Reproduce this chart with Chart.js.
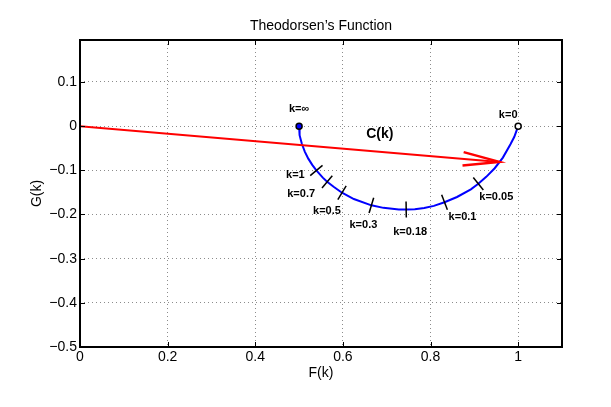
<!DOCTYPE html>
<html lang="en">
<head>
<meta charset="UTF-8">
<title>Theodorsen's Function</title>
<script src="https://cdn.jsdelivr.net/npm/chart.js"></script>
<style>
    html, body { margin: 0; padding: 0; background: #fff; }
    #wrap { width: 611px; height: 407px; }
</style>
</head>
<body>
<div id="wrap"><canvas id="chart" width="611" height="407"></canvas></div>
<script>
    // Theodorsen function C(k) = F(k) + iG(k), going from k = inf down to k = 0
    const kValues = [Infinity, 10, 6, 4, 3, 2, 1.5, 1.2, 1.0, 0.8, 0.7, 0.6, 0.5, 0.4, 0.3, 0.25, 0.2, 0.18, 0.16, 0.14, 0.12, 0.1, 0.08, 0.06, 0.05, 0.04, 0.03, 0.02, 0.01, 0.005, 0];
    const fValues = [0.5, 0.5006, 0.5017, 0.5037, 0.5063, 0.5130, 0.5210, 0.5300, 0.5394, 0.5541, 0.5640, 0.5788, 0.5979, 0.6250, 0.6650, 0.6925, 0.7276, 0.7444, 0.7640, 0.7855, 0.8076, 0.8319, 0.8604, 0.8920, 0.9090, 0.9271, 0.9464, 0.9651, 0.9824, 0.9912, 1.0];
    const gValues = [0, -0.0124, -0.0206, -0.0305, -0.0400, -0.0577, -0.0736, -0.0877, -0.1003, -0.1165, -0.1260, -0.1371, -0.1507, -0.1650, -0.1793, -0.1850, -0.1886, -0.1889, -0.1881, -0.1855, -0.1805, -0.1723, -0.1604, -0.1430, -0.1305, -0.1148, -0.0953, -0.0712, -0.0408, -0.0240, 0];

    // reduced frequencies marked on the curve
    const markedK = [1.0, 0.7, 0.5, 0.3, 0.18, 0.1, 0.05];
    const markLabels = ['k=1', 'k=0.7', 'k=0.5', 'k=0.3', 'k=0.18', 'k=0.1', 'k=0.05'];
    const endLabels = ['k=\u221e', 'k=0'];

    // C(k) vector drawn from the origin
    const arrowF = [0, 0.957];
    const arrowG = [0, -0.081];

    const xTicks = [0, 0.2, 0.4, 0.6, 0.8, 1];
    const yTicks = [-0.5, -0.4, -0.3, -0.2, -0.1, 0, 0.1];

    // label offsets in pixels from the marked point
    const markOffsets = [[-21, 5], [-26, 12], [-15, 18], [-8, 20], [4, 22], [18, 15], [18, 13]];
    const endOffsets = [[0, -17], [-10, -11]];

    Chart.defaults.font.family = '"Liberation Sans", Arial, sans-serif';
    Chart.defaults.color = '#000';

    function fmt(v) {
        if (v === 0) return '0';
        return (v < 0 ? '\u2212' : '') + Math.abs(v);
    }

    const overlay = {
        id: 'overlay',
        afterDatasetsDraw(chart) {
            const { ctx, chartArea: a, scales: { x, y } } = chart;
            ctx.save();

            // frame + inward ticks
            ctx.strokeStyle = '#000';
            ctx.lineWidth = 1;
            ctx.beginPath();
            xTicks.forEach(v => {
                const px = Math.round(x.getPixelForValue(v)) + 0.5;
                ctx.moveTo(px, a.bottom); ctx.lineTo(px, a.bottom - 5);
                ctx.moveTo(px, a.top); ctx.lineTo(px, a.top + 5);
            });
            yTicks.forEach(v => {
                const py = Math.round(y.getPixelForValue(v)) + 0.5;
                ctx.moveTo(a.left, py); ctx.lineTo(a.left + 5, py);
                ctx.moveTo(a.right, py); ctx.lineTo(a.right - 5, py);
            });
            ctx.stroke();
            ctx.lineWidth = 2;
            ctx.strokeRect(a.left, a.top, a.right - a.left, a.bottom - a.top);

            // k tick marks across the curve
            ctx.lineWidth = 1.5;
            ctx.font = 'bold 11px "Liberation Sans", Arial, sans-serif';
            ctx.fillStyle = '#000';
            ctx.textAlign = 'center';
            ctx.textBaseline = 'middle';
            markedK.forEach((k, i) => {
                const j = kValues.indexOf(k);
                const px = x.getPixelForValue(fValues[j]);
                const py = y.getPixelForValue(gValues[j]);
                let tx = x.getPixelForValue(fValues[j + 1]) - x.getPixelForValue(fValues[j - 1]);
                let ty = y.getPixelForValue(gValues[j + 1]) - y.getPixelForValue(gValues[j - 1]);
                const len = Math.hypot(tx, ty);
                const nx = -ty / len, ny = tx / len;
                ctx.beginPath();
                ctx.moveTo(px - nx * 8, py - ny * 8);
                ctx.lineTo(px + nx * 8, py + ny * 8);
                ctx.stroke();
                ctx.fillText(markLabels[i], px + markOffsets[i][0], py + markOffsets[i][1]);
            });

            // end labels
            [0, kValues.length - 1].forEach((j, i) => {
                const px = x.getPixelForValue(fValues[j]);
                const py = y.getPixelForValue(gValues[j]);
                ctx.fillText(endLabels[i], px + endOffsets[i][0], py + endOffsets[i][1]);
            });

            // arrow head
            const x0 = x.getPixelForValue(arrowF[0]), y0 = y.getPixelForValue(arrowG[0]);
            const x1 = x.getPixelForValue(arrowF[1]), y1 = y.getPixelForValue(arrowG[1]);
            const ang = Math.atan2(y1 - y0, x1 - x0);
            const head = 37, spread = 10.5 * Math.PI / 180;
            ctx.strokeStyle = '#ff0000';
            ctx.lineWidth = 2.5;
            ctx.lineJoin = 'miter';
            ctx.beginPath();
            ctx.moveTo(x1 - head * Math.cos(ang - spread), y1 - head * Math.sin(ang - spread));
            ctx.lineTo(x1, y1);
            ctx.lineTo(x1 - head * Math.cos(ang + spread), y1 - head * Math.sin(ang + spread));
            ctx.stroke();

            // C(k) label above the vector
            ctx.fillStyle = '#000';
            ctx.font = 'bold 14px "Liberation Sans", Arial, sans-serif';
            ctx.fillText('C(k)', x0 + (x1 - x0) * 0.715, y0 + (y1 - y0) * 0.715 - 18);

            ctx.restore();
        }
    };

    const curve = fValues.map((f, i) => ({ x: f, y: gValues[i] }));
    const ends = [curve[0], curve[curve.length - 1]];
    const arrow = arrowF.map((f, i) => ({ x: f, y: arrowG[i] }));

    new Chart(document.getElementById('chart'), {
        type: 'scatter',
        data: {
            datasets: [
                {
                    data: arrow, showLine: true, borderColor: '#ff0000', borderWidth: 2,
                    pointRadius: 0, order: 0
                },
                {
                    data: ends, showLine: false, pointRadius: 3, pointBorderWidth: 1.5,
                    pointBorderColor: '#000', pointBackgroundColor: ['#0000ff', '#ffffff'], order: 1
                },
                {
                    data: curve, showLine: true, borderColor: '#0000ff', borderWidth: 2,
                    pointRadius: 0, tension: 0, order: 2
                }
            ]
        },
        options: {
            responsive: false,
            animation: false,
            devicePixelRatio: 1,
            events: [],
            layout: { padding: { left: 0, right: 49, top: 0, bottom: 0 } },
            plugins: {
                legend: { display: false },
                tooltip: { enabled: false },
                title: {
                    display: true,
                    fullSize: false,
                    text: 'Theodorsen\u2019s Function',
                    font: { size: 14, weight: 'normal' },
                    color: '#000',
                    padding: { top: 17.4, bottom: 5.8 }
                }
            },
            scales: {
                x: {
                    type: 'linear', min: 0, max: 1.1,
                    afterBuildTicks: s => { s.ticks = xTicks.map(v => ({ value: v })); },
                    afterFit: s => { s.height = 60; },
                    ticks: { callback: v => fmt(v), font: { size: 14 }, padding: 2, maxRotation: 0 },
                    grid: { color: 'rgba(0,0,0,0.45)', lineWidth: 1, drawTicks: false },
                    border: { display: false, dash: [1, 3] },
                    title: { display: true, text: 'F(k)', font: { size: 14 }, padding: { top: 0, bottom: 25.6 } }
                },
                y: {
                    type: 'linear', min: -0.5, max: 0.195,
                    afterBuildTicks: s => { s.ticks = yTicks.map(v => ({ value: v })); },
                    afterFit: s => { s.width = 80; },
                    ticks: { callback: v => fmt(v), font: { size: 14 }, padding: 3 },
                    grid: { color: 'rgba(0,0,0,0.45)', lineWidth: 1, drawTicks: false },
                    border: { display: false, dash: [1, 3] },
                    title: { display: true, text: 'G(k)', font: { size: 14 }, padding: { top: 28.6, bottom: 0 } }
                }
            }
        },
        plugins: [overlay]
    });
</script>
</body>
</html>
